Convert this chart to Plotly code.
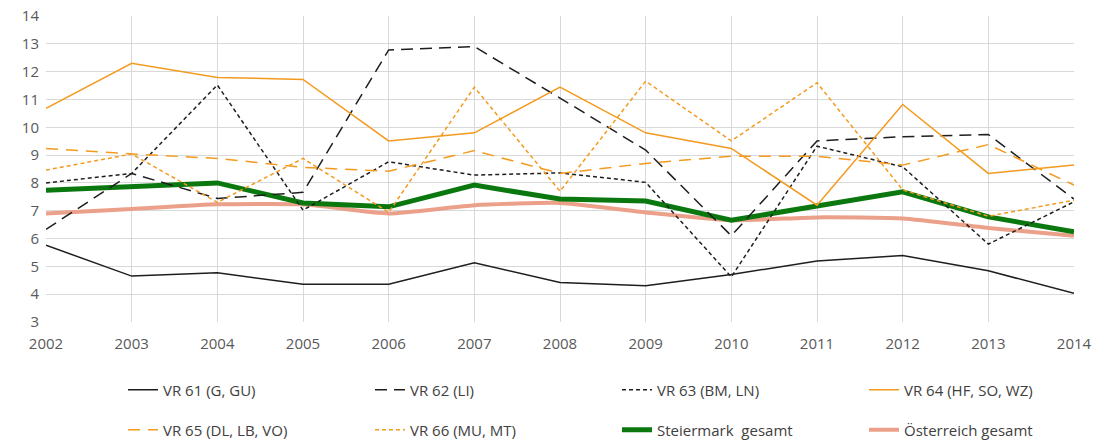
import plotly.graph_objects as go

years = list(range(2002, 2015))
y_ticks = list(range(3, 15))

vr61 = [5.76, 4.65, 4.77, 4.36, 4.36, 5.13, 4.42, 4.30, 4.71, 5.19, 5.39, 4.84, 4.03]
vr62 = [6.33, 8.34, 7.44, 7.66, 12.78, 12.90, 11.05, 9.18, 6.10, 9.51, 9.66, 9.74, 7.42]
vr63 = [8.00, 8.34, 11.52, 7.02, 8.76, 8.28, 8.36, 8.02, 4.62, 9.32, 8.58, 5.80, 7.32]
vr64 = [10.68, 12.30, 11.79, 11.72, 9.51, 9.80, 11.44, 9.80, 9.24, 7.20, 10.82, 8.34, 8.64]
vr65 = [9.24, 9.04, 8.88, 8.56, 8.42, 9.16, 8.34, 8.70, 8.96, 8.96, 8.64, 9.38, 7.92]
vr66 = [8.46, 9.04, 7.30, 8.88, 6.94, 11.44, 7.70, 11.66, 9.51, 11.60, 7.75, 6.80, 7.38]
steiermark = [7.74, 7.88, 8.00, 7.28, 7.14, 7.92, 7.42, 7.35, 6.66, 7.17, 7.68, 6.78, 6.24]
oesterreich = [6.90, 7.06, 7.23, 7.23, 6.90, 7.20, 7.28, 6.94, 6.66, 6.76, 6.72, 6.38, 6.10]

BLACK = "#1e1e1e"
ORANGE = "#F39A1F"
GREEN = "#0A780E"
SALMON = "#EBA08A"

series = [
    ("VR 61 (G, GU)", vr61, BLACK, 1.5, "solid", "linear", "legend"),
    ("VR 62 (LI)", vr62, BLACK, 1.5, "12px,7px", "linear", "legend"),
    ("VR 63 (BM, LN)", vr63, BLACK, 1.5, "4px,3px", "linear", "legend"),
    ("VR 64 (HF, SO, WZ)", vr64, ORANGE, 1.5, "solid", "linear", "legend"),
    ("VR 65 (DL, LB, VO)", vr65, ORANGE, 1.5, "12px,8px", "linear", "legend2"),
    ("VR 66 (MU, MT)", vr66, ORANGE, 1.5, "4px,3px", "linear", "legend2"),
    ("Steiermark  gesamt", steiermark, GREEN, 5, "solid", "linear", "legend2"),
    ("Österreich gesamt", oesterreich, SALMON, 4, "solid", "spline", "legend2"),
]

fig = go.Figure()
order = [7, 6, 0, 1, 2, 3, 4, 5]
for i in order:
    name, vals, col, w, dash, shape, leg = series[i]
    fig.add_trace(go.Scatter(
        x=years, y=vals, name=name, mode="lines",
        line=dict(color=col, width=w, dash=dash, shape=shape, smoothing=0.5),
        legend=leg, legendrank=i,
    ))

font_family = "Open Sans, Liberation Sans, sans-serif"
leg_common = dict(orientation="h", xref="container", yref="container",
                  x=123 / 1095, xanchor="left", yanchor="middle",
                  entrywidth=202, entrywidthmode="pixels", traceorder="normal",
                  bgcolor="rgba(0,0,0,0)",
                  font=dict(size=15, color="#404040"))
fig.update_layout(
    width=1095, height=441,
    margin=dict(l=46, r=21, t=16, b=119, autoexpand=False),
    paper_bgcolor="white", plot_bgcolor="white",
    font=dict(family=font_family, size=15, color="#404040"),
    showlegend=True,
    legend=dict(leg_common, y=(441 - 390) / 441),
    legend2=dict(leg_common, y=(441 - 430) / 441),
    xaxis=dict(range=[2002, 2014], tickvals=years, ticktext=[str(y) for y in years],
               showgrid=True, gridcolor="#d9d9d9", gridwidth=1, zeroline=False,
               showline=False, tickfont=dict(size=15, color="#595959"), ticks="",
               ticklabelstandoff=11),
    yaxis=dict(range=[3, 14], tickvals=y_ticks, ticktext=[str(v) for v in y_ticks],
               showgrid=True, gridcolor="#d9d9d9", gridwidth=1, zeroline=False,
               showline=False, tickfont=dict(size=15, color="#595959"), ticks="",
               ticklabelstandoff=6),
)
fig.write_html("out.html", config={"displayModeBar": False},
               post_script="document.body.style.margin='0';document.body.style.overflow='hidden';")
